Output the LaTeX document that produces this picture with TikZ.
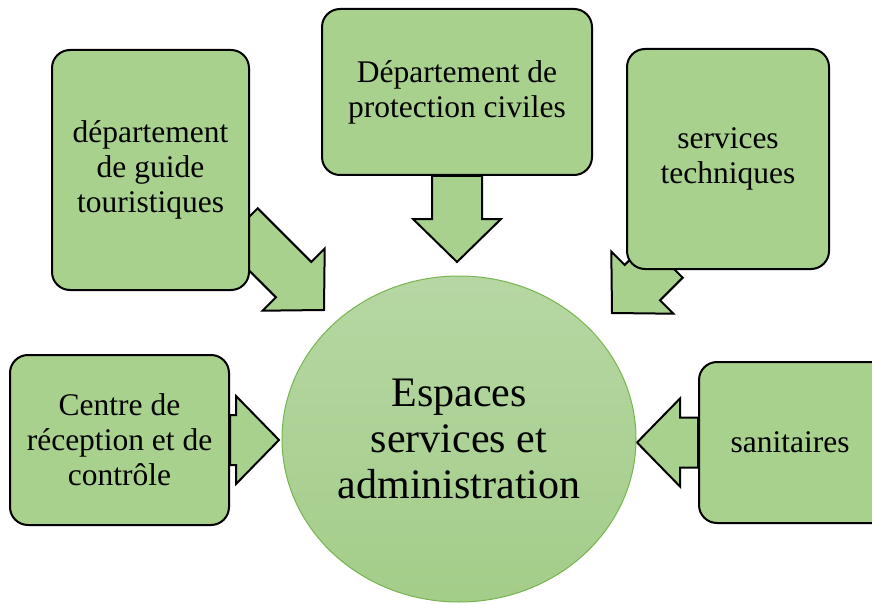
\documentclass[tikz,border=0pt]{standalone}
\usepackage{fontspec}
\setmainfont{Liberation Serif}
\usetikzlibrary{backgrounds,calc,shapes.geometric}
\definecolor{boxgreen}{RGB}{169,209,142}
\definecolor{hubtop}{RGB}{182,215,163}
\definecolor{hubbottom}{RGB}{163,205,137}
\definecolor{hubline}{RGB}{120,180,80}
\tikzset{
  box/.style={draw=black, line width=2pt, fill=boxgreen, rounded corners=18pt,
    inner sep=0pt, align=center, font=\fontsize{31.5}{35}\selectfont},
  hub/.style={ellipse, draw=hubline, line width=1pt, top color=hubtop, bottom color=hubbottom,
    inner sep=0pt, align=center, font=\fontsize{42}{46}\selectfont},
  arrowshape/.style={draw=black, line width=2pt, fill=boxgreen, line join=miter}
}
\newcommand{\blockarr}[2]{%
  \coordinate (h) at ($(#2)!43pt!(#1)$);
  \filldraw[arrowshape] ($(#1)!25pt!90:(#2)$) -- ($(h)!25pt!-90:(#1)$) -- ($(h)!44pt!-90:(#1)$)
    -- (#2) -- ($(h)!44pt!90:(#1)$) -- ($(h)!25pt!90:(#1)$) -- ($(#1)!25pt!-90:(#2)$) -- cycle;}
\begin{document}
\begin{tikzpicture}[x=1pt,y=-1pt]
\useasboundingbox (0,0) rectangle (872,604);

\node[box, minimum width=197pt, minimum height=240pt] (guide) at (150.5,170) {département\\de guide\\touristiques};
\node[box, minimum width=270pt, minimum height=166pt] (civile) at (457,92) {Département de\\protection civiles};
\node[box, minimum width=202pt, minimum height=220pt] (tech) at (728,159) {services\\techniques};
\node[box, minimum width=219pt, minimum height=170pt] (centre) at (119.5,440) {Centre de\\réception et de\\contrôle};
\node[box, minimum width=220pt, minimum height=161pt] (sani) at (809,442.5) {sanitaires\hspace*{38pt}};
\node[hub, minimum width=354pt, minimum height=326pt] (espaces) at (459,439) {Espaces\\services et\\administration};

\coordinate (guidefoot) at (240,226);
\coordinate (guidetip) at (324,310);
\coordinate (techfoot) at (665,260);
\coordinate (techtip) at (612,313);
\coordinate (civiletip) at (457,262);
\coordinate (centretip) at (279,440);
\coordinate (sanitip) at (637,442.5);

\begin{scope}[on background layer]
\blockarr{guidefoot}{guidetip}
\blockarr{civile.south}{civiletip}
\blockarr{techfoot}{techtip}
\blockarr{centre.east}{centretip}
\blockarr{sani.west}{sanitip}
\end{scope}
\end{tikzpicture}
\end{document}
